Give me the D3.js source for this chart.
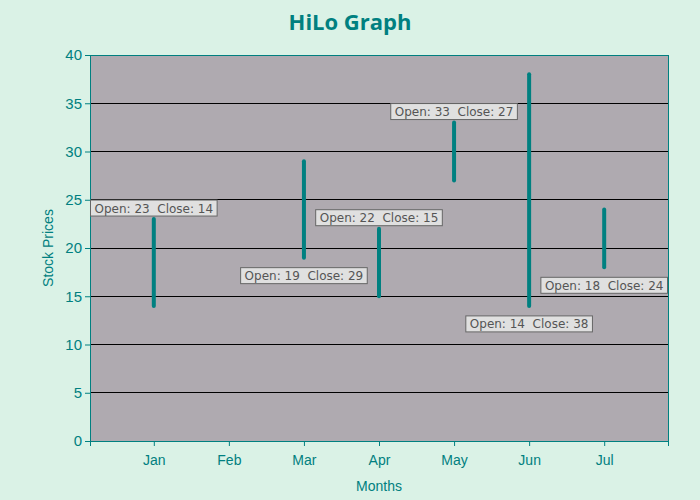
<!DOCTYPE html>
<html>
<head>
<meta charset="utf-8">
<script src="https://cdn.jsdelivr.net/npm/d3@7"></script>
<style>
html,body{margin:0;padding:0;background:#daf2e6;}
</style>
</head>
<body>
<svg id="chart" width="700" height="500"></svg>
<script>
const months = ["Jan","Feb","Mar","Apr","May","Jun","Jul"];
const openVals  = [23, null, 19, 22, 33, 14, 18];
const closeVals = [14, null, 29, 15, 27, 38, 24];
const yTicks = [0,5,10,15,20,25,30,35,40];

const svg = d3.select("#chart");
const W = 700, H = 500;
const m = {left: 90, right: 32, top: 55, bottom: 59};
const teal = "#008080";

svg.append("rect").attr("width", W).attr("height", H).attr("fill", "#daf2e6");

const x = d3.scaleLinear().domain([-0.85, months.length - 0.15]).range([m.left, W - m.right]);
const y = d3.scaleLinear().domain([0, 40]).range([H - m.bottom, m.top]);

// plot area
svg.append("rect")
  .attr("x", m.left).attr("y", m.top)
  .attr("width", W - m.left - m.right).attr("height", H - m.top - m.bottom)
  .attr("fill", "#afaab0");

// gridlines
svg.append("g").selectAll("line")
  .data(yTicks.filter(d => d > 0 && d < 40))
  .join("line")
  .attr("x1", m.left).attr("x2", W - m.right)
  .attr("y1", d => y(d)).attr("y2", d => y(d))
  .attr("stroke", "#000").attr("stroke-width", 1).attr("shape-rendering", "crispEdges");

// border
svg.append("rect")
  .attr("x", m.left).attr("y", m.top)
  .attr("width", W - m.left - m.right).attr("height", H - m.top - m.bottom)
  .attr("fill", "none").attr("stroke", teal).attr("stroke-width", 1).attr("shape-rendering", "crispEdges");

// axes
const yAxis = d3.axisLeft(y).tickValues(yTicks).tickSize(5).tickPadding(3);
const gy = svg.append("g").attr("transform", `translate(${m.left},0)`).call(yAxis);
const xAxis = d3.axisBottom(x).tickValues(d3.range(months.length)).tickFormat(i => months[i]).tickSize(5).tickPadding(9);
const gx = svg.append("g").attr("transform", `translate(0,${H - m.bottom})`).call(xAxis);
[gx, gy].forEach(g => {
  g.select(".domain").attr("stroke", teal);
  g.selectAll(".tick line").attr("stroke", teal);
  g.selectAll(".tick text").attr("fill", teal).attr("font-family", "Liberation Sans, Arial, sans-serif").attr("font-size", 14);
});
gy.selectAll(".tick text").attr("font-size", 15);

// bars
const data = months.map((mo, i) => ({i, mo, open: openVals[i], close: closeVals[i]})).filter(d => d.open != null);
svg.append("g").selectAll("line")
  .data(data)
  .join("line")
  .attr("x1", d => x(d.i)).attr("x2", d => x(d.i))
  .attr("y1", d => y(Math.max(d.open, d.close)))
  .attr("y2", d => y(Math.min(d.open, d.close)))
  .attr("stroke", teal).attr("stroke-width", 4).attr("stroke-linecap", "round");

// labels
const lg = svg.append("g");
data.forEach(d => {
  const g = lg.append("g");
  const t = g.append("text")
    .attr("font-family", "DejaVu Sans, Verdana, sans-serif")
    .attr("font-size", 12)
    .attr("fill", "#555")
    .attr("text-anchor", "middle")
    .attr("xml:space", "preserve")
    .style("white-space", "pre")
    .text(`Open: ${d.open}  Close: ${d.close}`);
  const tw = t.node().getComputedTextLength();
  const bw = tw + 8, bh = 16;
  const cx = x(d.i);
  const top = d.open > d.close ? y(d.open) - 3 - bh : y(d.open) + 10;
  g.insert("rect", "text")
    .attr("x", cx - bw / 2).attr("y", top)
    .attr("width", bw).attr("height", bh)
    .attr("fill", "#e0e0e0").attr("stroke", "#666").attr("stroke-width", 1);
  t.attr("x", cx).attr("y", top + 12.5);
});

// title
svg.append("text")
  .attr("x", 350).attr("y", 30)
  .attr("text-anchor", "middle")
  .attr("font-family", "Open Sans, DejaVu Sans, sans-serif")
  .attr("font-weight", "bold").attr("font-size", 22)
  .attr("fill", "#008080")
  .text("HiLo Graph");

// axis titles
svg.append("text")
  .attr("x", (m.left + W - m.right) / 2).attr("y", 491)
  .attr("text-anchor", "middle")
  .attr("font-family", "Liberation Sans, Arial, sans-serif").attr("font-size", 14)
  .attr("fill", teal).text("Months");
svg.append("text")
  .attr("transform", `translate(53,${(m.top + H - m.bottom) / 2}) rotate(-90)`)
  .attr("text-anchor", "middle")
  .attr("font-family", "Liberation Sans, Arial, sans-serif").attr("font-size", 14)
  .attr("fill", teal).text("Stock Prices");
</script>
</body>
</html>
